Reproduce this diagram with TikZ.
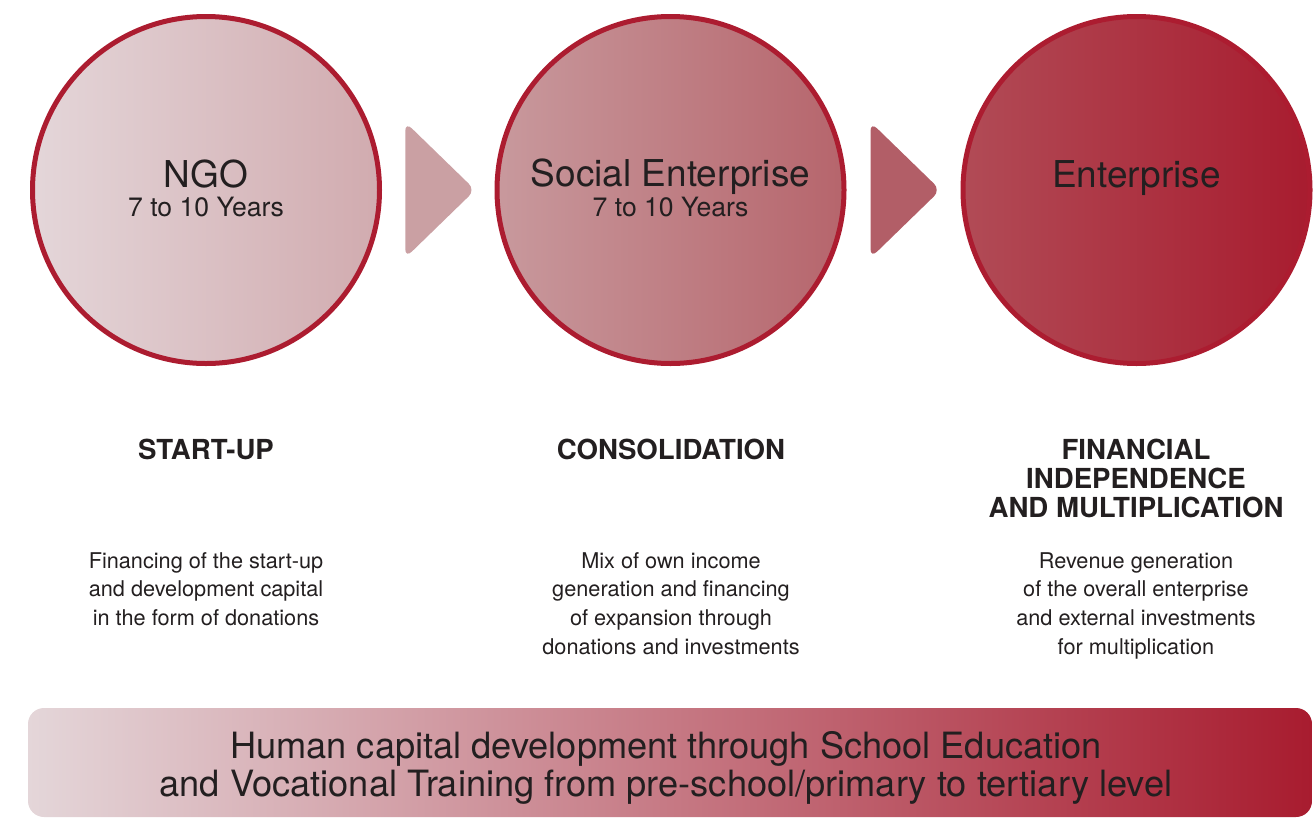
\documentclass[tikz,border=0pt]{standalone}
\usepackage{fontspec}
\setmainfont{TeX Gyre Heros}
\usetikzlibrary{calc}
\definecolor{ring}{HTML}{AC1C30}
\definecolor{ink}{HTML}{231F20}
% fill tones, one pair per stage
\definecolor{ngoL}{HTML}{E4D6D9}
\definecolor{ngoR}{HTML}{D1ABAF}
\definecolor{socL}{HTML}{C8999D}
\definecolor{socR}{HTML}{B6656C}
\definecolor{entL}{HTML}{B14B56}
\definecolor{entR}{HTML}{A81C2F}
\definecolor{stepA}{HTML}{CAA0A3}
\definecolor{stepB}{HTML}{B25E67}
\definecolor{barM}{HTML}{BF8085}
\tikzset{
  stage/.style={circle, draw=ring, line width=5pt, minimum size=347pt, inner sep=0pt},
  stagename/.style={anchor=base, text=ink, inner sep=0pt, font=\fontsize{37}{40}\selectfont},
  years/.style={anchor=base, text=ink, inner sep=0pt, font=\fontsize{26.6}{28}\selectfont},
  phase/.style={anchor=north, align=center, text=ink, inner sep=0pt, font=\fontsize{27.6}{29}\selectfont\bfseries},
  desc/.style={anchor=north, align=center, text=ink, inner sep=0pt, font=\fontsize{21.7}{28.7}\selectfont},
  chevron/.style={rounded corners=9pt},
}
\begin{document}
\begin{tikzpicture}[x=1pt, y=-1pt]
		\useasboundingbox (0,0) rectangle (1316,817);
		\node[stage, left color=ngoL, right color=ngoR] (ngo) at (206,190) {};
		\node[stage, left color=socL, right color=socR] (social) at (670.5,190) {};
		\node[stage, left color=entL, right color=entR] (enterprise) at (1136.5,190) {};
		\coordinate (step1) at ($(ngo.east)!0.5!(social.west)$);
		\coordinate (step2) at ($(social.east)!0.5!(enterprise.west)$);
		\fill[chevron, stepA] ([shift={(-33,-68)}]step1) -- ([shift={(-33,68)}]step1) -- ([shift={(37,0)}]step1) -- cycle;
		\fill[chevron, stepB] ([shift={(-33,-68)}]step2) -- ([shift={(-33,68)}]step2) -- ([shift={(37,0)}]step2) -- cycle;
		\node[stagename] (ngoname) at ([yshift=3pt]ngo.center) {NGO};
		\node[years] (ngoyears) at ([yshift=-26pt]ngo.center) {7 to 10 Years};
		\node[stagename] (socialname) at ([yshift=4pt]social.center) {Social Enterprise};
		\node[years] (socialyears) at ([yshift=-26pt]social.center) {7 to 10 Years};
		\node[stagename] (enterprisename) at ([yshift=3pt]enterprise.center) {Enterprise};
		\node[phase] (startup) at (206,439) {START-UP};
		\node[phase] (consolidation) at (671,439) {CONSOLIDATION};
		\node[phase] (independence) at (1136,439) {FINANCIAL\\INDEPENDENCE\\AND MULTIPLICATION};
		\node[desc] (startupdesc) at (206,552) {Financing of the start-up\\and development capital\\in the form of donations};
		\node[desc] (consolidationdesc) at (671,552) {Mix of own income\\generation and financing\\of expansion through\\donations and investments};
		\node[desc] (independencedesc) at (1136,552) {Revenue generation\\of the overall enterprise\\and external investments\\for multiplication};
		\shade[left color=ngoL, middle color=barM, right color=entR, rounded corners=16pt] (28,708) rectangle (1312,817);
		\node[anchor=north, align=center, text=ink, inner sep=0pt, font=\fontsize{36.2}{38}\selectfont] (capital) at (666,731) {Human capital development through School Education\\and Vocational Training from pre-school/primary to tertiary level};
\end{tikzpicture}
\end{document}
